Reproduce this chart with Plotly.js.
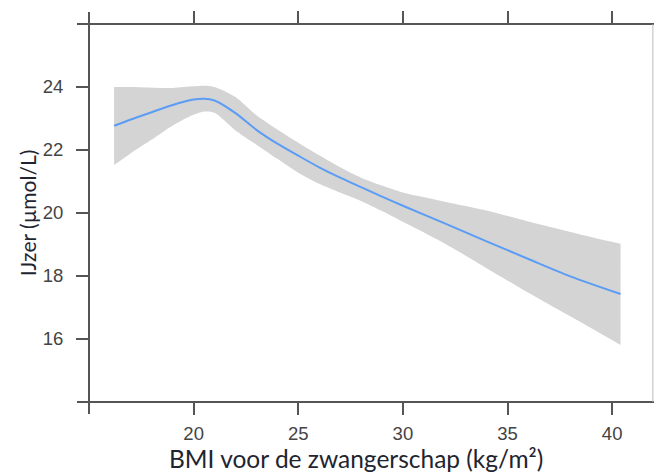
<!DOCTYPE html>
<html><head><meta charset="utf-8">
<script src="https://cdn.plot.ly/plotly-3.0.1.min.js"></script>
<style>html,body{margin:0;padding:0;background:#fff}</style>
</head><body><div id="chart" style="width:655px;height:473px"></div>
<script>
const bmi   = [16.2, 17, 18, 19, 20, 20.5, 21, 22, 23, 24, 25, 26, 27, 28, 29, 30, 32, 34, 36, 38, 40.4];
const fit   = [22.77, 22.97, 23.2, 23.43, 23.6, 23.63, 23.57, 23.17, 22.64, 22.2, 21.82, 21.45, 21.12, 20.82, 20.52, 20.23, 19.67, 19.1, 18.54, 17.99, 17.43];
const upper = [24.0, 24.0, 23.98, 23.97, 24.02, 24.04, 24.0, 23.68, 23.1, 22.65, 22.23, 21.83, 21.45, 21.12, 20.87, 20.65, 20.36, 20.08, 19.73, 19.4, 19.02];
const lower = [21.52, 21.9, 22.33, 22.78, 23.12, 23.22, 23.18, 22.62, 22.17, 21.72, 21.28, 20.93, 20.65, 20.38, 20.06, 19.72, 19.03, 18.25, 17.47, 16.72, 15.81];
const xTicks = [20, 25, 30, 35, 40];
const yTicks = [16, 18, 20, 22, 24];
const xTitle = 'BMI voor de zwangerschap (kg/m²)';
const yTitle = 'IJzer (µmol/L)';

const axisCol = '#555555';
const titleFont = {family: 'Lato, sans-serif', color: '#1f2530'};
const traces = [
  {x: bmi, y: lower, type: 'scatter', mode: 'lines', line: {width: 0, shape: 'spline', smoothing: 0.8}, hoverinfo: 'skip', showlegend: false},
  {x: bmi, y: upper, type: 'scatter', mode: 'lines', line: {width: 0, shape: 'spline', smoothing: 0.8}, fill: 'tonexty', fillcolor: '#d4d4d4', hoverinfo: 'skip', showlegend: false},
  {x: bmi, y: fit, type: 'scatter', mode: 'lines', line: {color: '#5b9cf5', width: 2, shape: 'spline', smoothing: 0.8}, showlegend: false}
];
const extX = 12/565, extY = 12/378;
const layout = {
  width: 655, height: 473,
  margin: {l: 89, r: 1, t: 24, b: 71},
  paper_bgcolor: '#ffffff', plot_bgcolor: '#ffffff',
  xaxis: {
    range: [15, 42], tickvals: xTicks, ticks: 'outside', ticklen: 12, tickwidth: 2, tickcolor: axisCol,
    mirror: 'ticks', showline: false, showgrid: false, zeroline: false, ticklabelstandoff: 3,
    tickfont: {family: 'Liberation Sans, Arial, sans-serif', size: 18.5, color: '#444'}
  },
  yaxis: {
    range: [14, 26], tickvals: yTicks, ticks: 'outside', ticklen: 12, tickwidth: 2, tickcolor: axisCol,
    showline: false, showgrid: false, zeroline: false, ticklabelstandoff: 9,
    tickfont: {family: 'Liberation Sans, Arial, sans-serif', size: 18.5, color: '#444'},
    title: {text: yTitle, font: Object.assign({size: 21}, titleFont), standoff: 0}
  },
  annotations: [
    {text: xTitle, xref: 'paper', yref: 'paper', x: (356 - 89) / 565, y: (402 - 459) / 378,
     xanchor: 'center', yanchor: 'middle', showarrow: false, font: Object.assign({size: 24.5}, titleFont)}
  ],
  shapes: [
    {type: 'line', xref: 'paper', yref: 'paper', x0: 0, x1: 0, y0: -extY, y1: 1 + extY, line: {color: axisCol, width: 2}},
    {type: 'line', xref: 'paper', yref: 'paper', x0: -extX, x1: 1, y0: 0, y1: 0, line: {color: axisCol, width: 2}},
    {type: 'line', xref: 'paper', yref: 'paper', x0: -extX, x1: 1, y0: 1, y1: 1, line: {color: axisCol, width: 2}},
    {type: 'line', xref: 'paper', yref: 'paper', x0: 0.998, x1: 0.998, y0: 0, y1: 1, line: {color: '#bbbbbb', width: 1}}
  ]
};
Plotly.newPlot('chart', traces, layout, {displayModeBar: false, staticPlot: true});
</script></body></html>
